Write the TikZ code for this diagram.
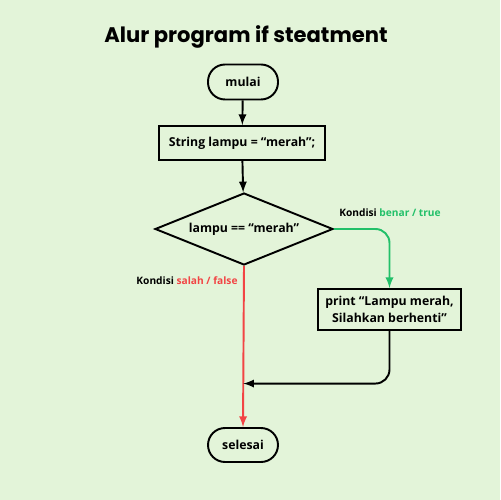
\documentclass[tikz,border=0pt]{standalone}
\usepackage{fontspec}
\setmainfont{Open Sans}
\newfontfamily\titlefont{Poppins}
\usetikzlibrary{shapes.geometric}
\definecolor{latar}{HTML}{E3F4D9}
\definecolor{hijau}{HTML}{22C069}
\definecolor{merah}{HTML}{F24444}

\tikzset{
    terminal/.style={draw, rectangle, rounded corners=0.34cm, line width=1.1pt, minimum width=1.4cm, minimum height=0.7cm, font=\bfseries\fontsize{7}{8}\selectfont},
    proses/.style={draw, rectangle, line width=1.1pt, align=center, font=\bfseries\fontsize{7}{9.5}\selectfont},
    keputusan/.style={draw, diamond, aspect=2.5, inner sep=1pt, line width=1.1pt, minimum width=3.56cm, minimum height=1.44cm, font=\bfseries\fontsize{7}{8}\selectfont},
    keterangan/.style={font=\bfseries\fontsize{5.8}{6}\selectfont},
    alur/.style={line width=1.1pt, -latex}
}

\begin{document}
\begin{tikzpicture}[x=0.02cm, y=-0.02cm]
    \fill[latar] (0,0) rectangle (500,500);
    \useasboundingbox (0,0) rectangle (500,500);
    \node[font=\titlefont\bfseries\fontsize{12}{14}\selectfont] (judul) at (246,37) {Alur program if steatment};
    \node[terminal] (mulai) at (243,82) {mulai};
    \node[proses, minimum width=3.32cm, minimum height=0.68cm] (string) at (242,143) {String lampu = “merah”;};
    \node[keputusan] (kondisi) at (244,229) {lampu == “merah”};
    \node[proses, minimum width=2.86cm, minimum height=0.82cm] (print) at (389.5,309.5) {print “Lampu merah,\\ Silahkan berhenti”};
    \node[terminal, minimum height=0.68cm] (selesai) at (243,445) {selesai};
    \node[keterangan] (benar) at (390,213) {Kondisi \textcolor{hijau}{benar / true}};
    \node[keterangan] (salah) at (187,281) {Kondisi \textcolor{merah}{salah / false}};
    % garis alur
    \draw[alur] (mulai) -- (string);
    \draw[alur] (string) -- (kondisi);
    \draw[alur, hijau, rounded corners=8] (kondisi.east) -| (print.north);
    \draw[alur, merah] (kondisi.south) -- coordinate[pos=0.73] (gabung) (selesai.north);
    \draw[alur, rounded corners=8] (print.south) |- (gabung);
\end{tikzpicture}
\end{document}
